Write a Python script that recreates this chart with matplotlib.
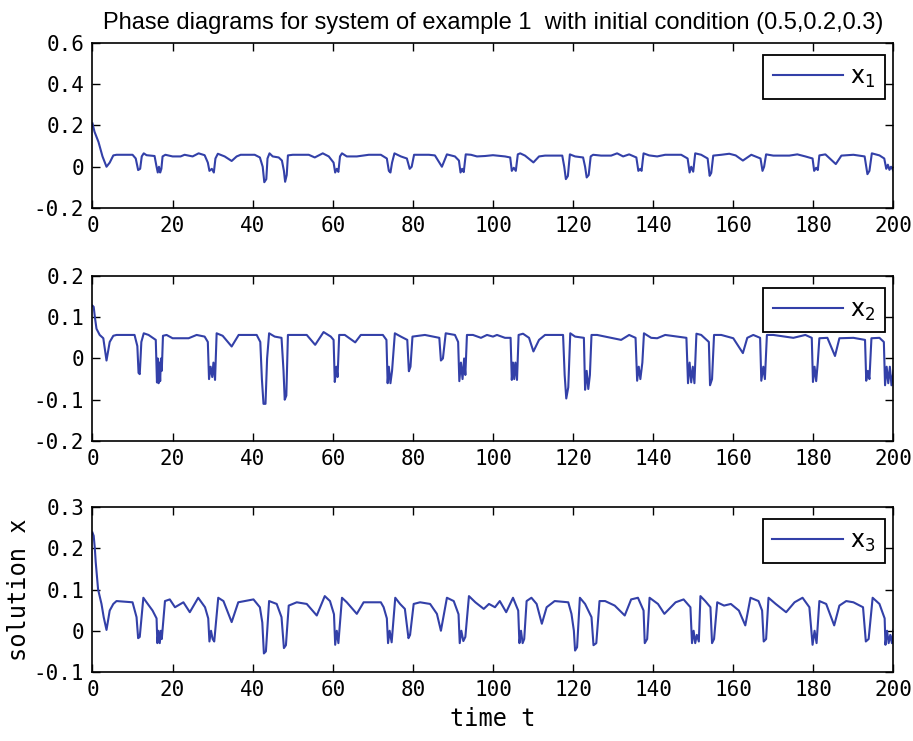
import matplotlib
matplotlib.use('Agg')
import matplotlib.pyplot as plt
from matplotlib.ticker import FuncFormatter

# values (t, x)
t1 = [0, 0.5, 1.5, 2.5, 3.5, 4.3, 5.2, 6, 10, 10.8, 11.4, 11.9, 12.3, 12.8, 13.5, 15.5,
      16.0, 16.3, 16.6, 16.9, 17.2, 17.5, 18.2, 20, 22, 23, 25, 26.5, 28, 28.8, 29.2, 29.8,
      30.3, 30.7, 31.3, 33, 34.75, 36, 37, 40.5, 41.8, 42.5, 42.9, 43.4, 43.7, 44.2, 45,
      46.5, 47.3, 47.8, 48.1, 48.5, 48.8, 50, 54, 55.5, 57.5, 59, 60.2, 60.6, 61.0, 61.4,
      61.8, 62.3, 63.5, 66, 69, 72, 73.5, 74.0, 74.4, 74.8, 75.4, 77, 78.5, 79.2, 79.7,
      80.3, 84, 85.5, 87.25, 88.5, 90.5, 91.5, 91.9, 92.3, 92.7, 93.2, 94.5, 96, 98, 100,
      101, 103, 104.3, 104.7, 105.2, 105.7, 106.2, 106.8, 108, 110.1, 111.5, 113, 117.3,
      117.8, 118.2, 118.7, 119.2, 120.5, 122.5, 123.0, 123.4, 123.9, 124.4, 125, 127,
      129.5, 131, 132.5, 134, 135.8, 136.3, 136.8, 137.1, 137.6, 139, 141, 143, 147, 148.6,
      149.1, 149.5, 150, 150.5, 152, 153.6, 154.1, 154.5, 155, 157, 159, 160.6, 162.4,
      164.5, 166.8, 167.3, 167.7, 168.2, 170, 174, 176, 178, 179.8, 180.2, 180.7, 181.1,
      181.5, 183, 185.6, 187, 190, 192.8, 193.5, 194.0, 194.6, 196.5, 197.7, 198.2, 198.6,
      199.0, 199.4, 200]
x1 = [0.21, 0.17, 0.12, 0.05, 0.0, 0.02, 0.055, 0.058, 0.058, 0.04, -0.016, -0.01, 0.05,
      0.065, 0.056, 0.052, 0.0, -0.028, 0.0, -0.028, -0.01, 0.05, 0.058, 0.05, 0.05, 0.058,
      0.05, 0.065, 0.056, 0.02, -0.02, -0.01, -0.028, 0.04, 0.063, 0.05, 0.028, 0.05, 0.058,
      0.058, 0.045, 0.0, -0.075, -0.06, 0.04, 0.065, 0.05, 0.045, 0.03, -0.02, -0.073,
      -0.04, 0.055, 0.058, 0.058, 0.045, 0.065, 0.05, 0.02, -0.028, -0.01, -0.025, 0.05,
      0.065, 0.05, 0.05, 0.058, 0.058, 0.04, -0.02, -0.028, 0.02, 0.065, 0.05, 0.04, -0.01,
      0.0, 0.058, 0.058, 0.055, 0.0, 0.06, 0.05, 0.03, -0.028, -0.01, -0.026, 0.06, 0.058,
      0.05, 0.052, 0.056,
      0.054, 0.05, 0.045, -0.02, -0.005, -0.02, 0.06, 0.065, 0.054, 0.021, 0.05, 0.054,
      0.054, 0.0, -0.06, -0.045, 0.06, 0.05, 0.045, 0.0, -0.052, -0.04, 0.05, 0.058, 0.054,
      0.054, 0.065, 0.05, 0.06, 0.045, -0.02, -0.01, -0.02, 0.065, 0.055, 0.05, 0.058,
      0.058, 0.04, -0.028, 0.0, -0.024, 0.065, 0.058, 0.04, -0.044, -0.03, 0.054, 0.058,
      0.063, 0.055, 0.03, 0.058, 0.04, -0.02, 0.0, 0.06, 0.054, 0.054, 0.06, 0.05, 0.04,
      -0.02, -0.005, -0.016, 0.055, 0.06, 0.013, 0.054, 0.058, 0.05, -0.036, -0.02, 0.065,
      0.055, 0.04, -0.01, 0.01, -0.015, 0.0, -0.02]

t2 = [0, 0.3, 0.6, 1.0, 1.8, 2.7, 3.5, 4.3, 5.2, 6, 10.5, 11.2, 11.5, 11.8, 12.2, 12.8, 14,
      15.2, 15.8, 16.1, 16.3, 16.5, 16.7, 16.9, 17.1, 17.3, 17.6, 18.5, 20, 24, 26, 28, 28.8,
      29.1, 29.5, 29.9, 30.2, 30.6, 31.0, 32.5, 34.75, 36.5, 41, 41.9, 42.3, 42.7, 43.2,
      43.6, 44.1, 45.5, 47.2, 47.7, 48.0, 48.4, 48.8, 50, 53.5, 55.6, 57.7, 59.5, 60.2,
      60.5, 60.9, 61.2, 61.6, 63, 65.6, 67, 72.5, 73.4, 73.7, 74.0, 74.4, 74.8, 75.5, 77,
      78.6, 79.0, 79.4, 79.9, 83, 86.6, 87.0, 87.5, 88.2, 90.5, 91.3, 91.6, 92.0, 92.4,
      92.8, 93.1, 93.5, 95, 97, 98.5, 100,
      101, 103, 104.4, 104.7, 105.0, 105.3, 105.6, 106.0, 106.4, 107.5, 109, 110.1, 111.5,
      113, 117.5, 117.9, 118.3, 118.8, 119.3, 120.5, 122.7, 123.0, 123.4, 123.8, 124.2,
      124.6, 126, 130, 132, 134, 135.6, 136.0, 136.4, 136.8, 137.3, 137.7, 139.5, 141, 143,
      148.3, 148.7, 149.1, 149.5, 149.9, 150.3, 150.8, 152, 153.9, 154.2, 154.7, 155.2,
      157, 160, 162.4, 163.5, 165, 166.7, 167.0, 167.5, 167.9, 168.4, 170, 175, 178, 179.6,
      179.9, 180.3, 180.7, 181.1, 181.5, 183.5, 185.4, 186.5, 190, 192.9, 193.2, 193.6,
      194.0, 194.5, 196.5, 197.6, 197.9, 198.3, 198.7, 199.1, 199.5, 200]
x2 = [0.128, 0.125, 0.1, 0.072, 0.057, 0.049, -0.005, 0.04, 0.055, 0.057, 0.057, 0.03,
      -0.035, -0.038, 0.04, 0.061, 0.057, 0.049, 0.045, -0.058, 0.0, -0.06, -0.01, -0.055,
      0.0, -0.03, 0.055, 0.057, 0.049, 0.049, 0.057, 0.053, 0.04, -0.05, -0.02, -0.045,
      -0.01, -0.052, 0.061, 0.055, 0.029, 0.057, 0.057, 0.04, -0.05, -0.11, -0.11, 0.0,
      0.061, 0.053, 0.05, -0.03, -0.1, -0.09, 0.057, 0.057, 0.057, 0.033, 0.064, 0.053,
      0.045, -0.057, -0.02, -0.045, 0.057, 0.057, 0.039, 0.057, 0.057, 0.045, -0.06, -0.02,
      -0.06, -0.03, 0.061, 0.053, 0.045, -0.031, -0.02, 0.053, 0.057, 0.05, -0.005, 0.0,
      0.061, 0.057, 0.04, -0.055, -0.01, -0.05, 0.0, -0.04, 0.057, 0.057, 0.05, 0.057, 0.053,
      0.057, 0.05, 0.05, -0.052, -0.01, -0.05, -0.01, -0.052, 0.057, 0.06, 0.05, 0.017,
      0.045, 0.057, 0.057, -0.04, -0.097, -0.07, 0.061, 0.053, 0.05, -0.076, -0.03, -0.074,
      -0.04, 0.057, 0.057, 0.049, 0.045, 0.057, 0.05, -0.054, -0.02, -0.05, -0.01, 0.061,
      0.05, 0.049, 0.057, 0.05, -0.06, -0.01, -0.058, -0.02, -0.06, 0.06, 0.057, 0.04,
      -0.065, -0.05, 0.057, 0.057, 0.049, 0.013, 0.05, 0.057, 0.05, -0.054, -0.02, -0.05,
      0.057, 0.057, 0.05, 0.057, 0.05, -0.057, -0.02, -0.055, -0.01, 0.049, 0.05, 0.006,
      0.049, 0.05, 0.045, -0.054, -0.03, -0.05, 0.049, 0.05, 0.04, -0.065, -0.02, -0.06,
      -0.02, -0.065, -0.03]

t3 = [0, 0.3, 0.6, 0.8, 1.4, 2.25, 2.8, 3.5, 4.3, 5.2, 6, 10, 11.0, 11.4, 11.8, 12.7, 13.5,
      15, 16.0, 16.2, 16.5, 16.8, 17.1, 17.3, 18.1, 19.3, 20.6, 22.7, 24.3, 26.4, 28.1,
      28.9, 29.2, 29.6, 30.0, 30.4, 31.4, 32.7, 34.75, 36.4, 40.2, 41.8, 42.4, 42.8, 43.3,
      44.1, 46, 47.2, 47.8, 48.3, 49, 51, 53.5, 56, 58, 59.3, 60.3, 60.6, 61.0, 61.4, 62.3,
      63.5, 66, 67.7, 72, 72.7, 73.5, 73.8, 74.2, 74.7, 75.6, 76.8, 78, 78.9, 79.3, 80.2,
      81.8, 84.3, 86, 87.0, 88.5, 90.2, 91.4, 91.7, 92.1, 92.6, 93.1, 94, 95.6, 97.7, 99,
      100.5,
      101.7, 103.3, 105, 106.3, 106.6, 107.0, 107.4, 107.8, 108.4, 109.6, 110.9, 112.2,
      113.4, 115.4, 118.8, 119.6, 120.2, 120.5, 121.0, 121.7, 123, 124.6, 125.1, 125.8,
      126.6, 128, 130.4, 132.9, 134.5, 136.2, 137.6, 137.9, 138.5, 139.1, 141.2, 142.8,
      145.6, 147.6, 149.3, 149.7, 150.1, 150.5, 150.9, 151.4, 151.8, 153, 154.3, 154.7,
      155.2, 156, 157.7, 159.4, 161.4, 163, 164.3, 166.3, 167.2, 167.6, 168.2, 168.8, 170.6,
      173.2, 175.3, 177.3, 179, 179.8, 180.3, 180.8, 181.5, 183.2, 185.2, 186.5, 188.2, 190,
      192.4, 193.1, 193.8, 194.8, 196.5, 197.8, 198.0, 198.4, 198.8, 199.2, 199.6, 200]
x3 = [0.238, 0.23, 0.198, 0.167, 0.1, 0.065, 0.033, 0.002, 0.049, 0.065, 0.072, 0.069,
      0.033, -0.018, -0.015, 0.08, 0.069, 0.049, 0.03, -0.03, 0.0, -0.03, 0.0, -0.02, 0.072,
      0.076, 0.057, 0.069, 0.045, 0.08, 0.057, 0.03, -0.026, 0.0, -0.02, -0.026, 0.08, 0.072,
      0.021, 0.069, 0.076, 0.057, 0.02, -0.055, -0.05, 0.072, 0.065, 0.033, -0.042, -0.035,
      0.061, 0.069, 0.065, 0.037, 0.084, 0.072, 0.04, -0.034, 0.0, -0.03, 0.08, 0.069, 0.041,
      0.069, 0.069, 0.057, 0.03, -0.03, 0.0, -0.028, 0.08, 0.065, 0.053, -0.018, -0.01,
      0.065, 0.069, 0.065, 0.041, 0.0, 0.08, 0.072, 0.04, -0.03, 0.0, -0.025, -0.015, 0.084,
      0.069, 0.053, 0.065, 0.057,
      0.072, 0.045, 0.08, 0.049, -0.03, 0.0, -0.03, -0.02, 0.072, 0.08, 0.065, 0.017, 0.057,
      0.072, 0.069, 0.041, 0.0, -0.048, -0.04, 0.08, 0.065, 0.033, -0.035, -0.03, 0.072,
      0.072, 0.061, 0.037, 0.076, 0.08, 0.049, -0.03, -0.02, 0.08, 0.065, 0.041, 0.069,
      0.076, 0.057, -0.03, 0.0, -0.03, -0.01, -0.026, 0.084, 0.072, 0.057, -0.03, -0.02,
      0.069, 0.061, 0.065, 0.049, 0.013, 0.08, 0.072, 0.049, -0.026, -0.02, 0.08, 0.065,
      0.045, 0.069, 0.08, 0.057, -0.034, 0.0, -0.03, 0.072, 0.065, 0.013, 0.061, 0.072,
      0.069, 0.057, -0.026, -0.02, 0.08, 0.065, 0.03, -0.034, 0.0, -0.03, -0.01, -0.03,
      0.002]

labels = [r'$\mathregular{x_1}$', r'$\mathregular{x_2}$', r'$\mathregular{x_3}$']
ylims = [(-0.2, 0.6), (-0.2, 0.2), (-0.1, 0.3)]
ysteps = [0.2, 0.1, 0.1]
xticks = list(range(0, 201, 20))

title = 'Phase diagrams for system of example 1  with initial condition (0.5,0.2,0.3)'
line_color = '#3340a8'
mono = 'DejaVu Sans Mono'

fig = plt.figure(figsize=(9.13, 7.41), dpi=100)
rects = [[0.1013, 0.7193, 0.8773, 0.2227],
         [0.1013, 0.4049, 0.8773, 0.2227],
         [0.1013, 0.0931, 0.8773, 0.2227]]

def fmt(v, pos):
    v = round(v, 6)
    if v == 0:
        return '0'
    return '%g' % v

for i, (t, x) in enumerate([(t1, x1), (t2, x2), (t3, x3)]):
    ax = fig.add_axes(rects[i])
    ax.plot(t, x, color=line_color, lw=1.5, label=labels[i])
    ax.set_xlim(0, 200)
    ax.set_ylim(*ylims[i])
    lo, hi = ylims[i]
    n = int(round((hi - lo) / ysteps[i]))
    ax.set_yticks([lo + k * ysteps[i] for k in range(n + 1)])
    ax.set_xticks(xticks)
    ax.yaxis.set_major_formatter(FuncFormatter(fmt))
    ax.tick_params(direction='in', length=6, width=1, top=True, right=True,
                   labelsize=15, pad=6)
    for lab in ax.get_xticklabels() + ax.get_yticklabels():
        lab.set_family(mono)
    for s in ax.spines.values():
        s.set_linewidth(1.2)
    leg = ax.legend(loc='upper right', bbox_to_anchor=(0.9894, 0.927), borderaxespad=0,
                    fontsize=17, handlelength=3.0, handletextpad=0.3, borderpad=0.4,
                    fancybox=False, framealpha=1, edgecolor='black')
    leg.get_frame().set_linewidth(1.3)
    if i == 0:
        ax.set_title(title, fontsize=17, family=['Liberation Sans', 'DejaVu Sans'],
                     pad=10)
    if i == 2:
        ax.set_xlabel('time t', fontsize=17, family=mono, labelpad=5)
        ax.set_ylabel('solution x', fontsize=17, family=mono, labelpad=2)

fig.savefig('out.png', dpi=100)
